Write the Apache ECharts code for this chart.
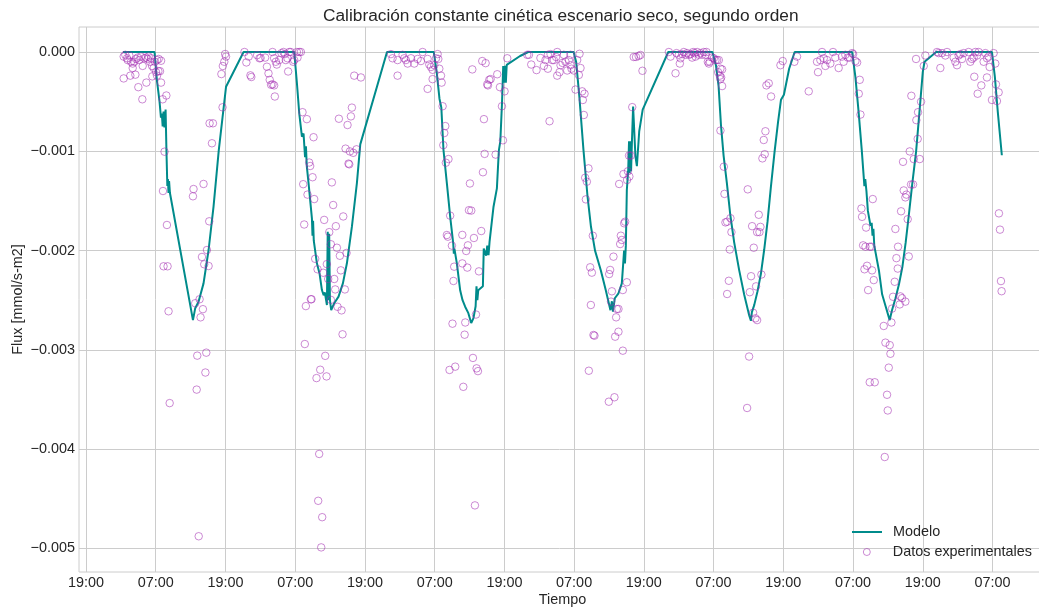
<!DOCTYPE html>
<html>
<head>
<meta charset="utf-8">
<script src="https://cdn.jsdelivr.net/npm/echarts@6/dist/echarts.min.js"></script>
<style>
html,body{margin:0;padding:0;background:#ffffff;}
#chart{width:1039px;height:610px;}
</style>
</head>
<body>
<div id="chart"></div>
<script>
// X ticks: hours after the first 19:00 tick
const tickHours = [0, 12, 24, 36, 48, 60, 72, 84, 96, 108, 120, 132, 144, 156];
const tickLabels = ['19:00', '07:00', '19:00', '07:00', '19:00', '07:00', '19:00',
                    '07:00', '19:00', '07:00', '19:00', '07:00', '19:00', '07:00'];
const fluxTicks = [0, -0.001, -0.002, -0.003, -0.004, -0.005];

// Modelo (hours, mmol/s-m2)
const modelHours = [
  6.36, 11.8, 12.2, 12.66, 12.9, 13.05, 13.2, 13.35,
  13.5, 13.7, 13.85, 14.0, 14.1, 14.2, 14.3, 14.45,
  18.41, 18.8, 19.37, 20.23, 21.1, 21.95, 22.85, 24.1,
  27.12, 35.84, 36.3, 36.7, 37.16, 37.44, 37.7, 37.85,
  38.0, 38.3, 38.88, 38.98, 39.08, 39.2, 39.74, 40.19,
  40.6, 40.9, 41.1, 41.46, 41.6, 41.72, 41.85, 41.98,
  42.2, 42.72, 43.46, 44.21, 44.9, 45.76, 46.62, 47.2,
  51.8, 59.85, 60.35, 60.83, 61.15, 61.52, 62.1, 62.67,
  63.2, 63.3, 63.4, 63.82, 64.39, 64.8, 65.25, 65.8,
  66.29, 66.68, 67.05, 67.2, 67.35, 67.5, 67.84, 68.3,
  68.45, 68.6, 68.87, 69.05, 69.27, 69.45, 70.13, 70.71,
  71.05, 71.3, 71.6, 71.8, 71.95, 72.1, 72.25, 72.4,
  74.7, 76.1, 83.92, 84.35, 84.9, 85.6, 86.3, 86.9,
  87.6, 88.6, 89.45, 90.25, 90.5, 90.68, 91.0, 91.63,
  92.21, 92.6, 92.75, 92.9, 93.07, 93.3, 93.45, 93.55,
  93.7, 93.8, 93.95, 94.15, 94.3, 94.55, 94.8, 95.2,
  95.8, 100.2, 107.8, 108.4, 108.86, 109.26, 109.72, 110.29,
  110.87, 111.55, 112.41, 113.27, 114.13, 114.42, 114.59, 114.99,
  115.56, 116.14, 116.71, 117.28, 117.86, 118.5, 119.1, 119.6,
  120.1, 121.0, 121.95, 131.85, 132.1, 132.4, 132.95, 133.5,
  133.95, 134.1, 134.3, 134.55, 135.0, 135.2, 135.35, 135.5,
  135.65, 136.45, 137.0, 137.6, 138.3, 138.7, 139.3, 139.9,
  140.5, 141.05, 141.6, 142.2, 142.85, 143.4, 144.0, 144.3,
  146.3, 155.9, 156.4, 156.9, 157.6
];
const modelFlux = [
  0, 0, -0.28e-3, -0.5e-3, -0.66e-3, -0.62e-3, -0.75e-3, -0.6e-3,
  -0.76e-3, -0.58e-3, -1.0e-3, -1.35e-3, -1.28e-3, -1.42e-3, -1.3e-3, -1.42e-3,
  -2.70e-3, -2.58e-3, -2.515e-3, -2.33e-3, -1.994e-3, -1.558e-3, -0.99e-3, -0.35e-3,
  0, 0, -0.315e-3, -0.617e-3, -0.853e-3, -0.82e-3, -1.06e-3, -0.95e-3,
  -1.15e-3, -1.32e-3, -1.675e-3, -1.85e-3, -1.70e-3, -1.9e-3, -2.128e-3, -2.23e-3,
  -2.397e-3, -2.45e-3, -2.42e-3, -2.548e-3, -1.81e-3, -2.5e-3, -1.83e-3, -2.5e-3,
  -2.6e-3, -2.53e-3, -2.464e-3, -2.33e-3, -2.128e-3, -1.759e-3, -1.32e-3, -0.93e-3,
  0, 0, -0.2e-3, -0.47e-3, -0.56e-3, -0.987e-3, -1.32e-3, -1.658e-3,
  -1.93e-3, -2.03e-3, -1.98e-3, -2.128e-3, -2.40e-3, -2.5e-3, -2.565e-3, -2.63e-3,
  -2.73e-3, -2.68e-3, -2.56e-3, -2.36e-3, -2.5e-3, -2.4e-3, -2.38e-3, -2.36e-3,
  -1.98e-3, -2.0e-3, -2.05e-3, -1.95e-3, -2.045e-3, -1.91e-3, -1.558e-3, -1.373e-3,
  -0.99e-3, -0.9e-3, -0.5e-3, -0.14e-3, -0.31e-3, -0.14e-3, -0.31e-3, -0.13e-3,
  -0.04e-3, 0, 0, -0.1e-3, -0.45e-3, -0.98e-3, -1.45e-3, -1.76e-3,
  -2.0e-3, -2.2e-3, -2.4e-3, -2.6e-3, -2.51e-3, -2.615e-3, -2.48e-3, -2.43e-3,
  -2.33e-3, -2.0e-3, -2.13e-3, -1.95e-3, -1.39e-3, -1.2e-3, -0.9e-3, -1.22e-3,
  -0.9e-3, -1.2e-3, -0.9e-3, -0.55e-3, -0.56e-3, -1.05e-3, -1.15e-3, -0.8e-3,
  -0.58e-3, 0, 0, -0.133e-3, -0.343e-3, -0.728e-3, -1.043e-3, -1.324e-3,
  -1.639e-3, -1.919e-3, -2.199e-3, -2.444e-3, -2.654e-3, -2.707e-3, -2.619e-3, -2.549e-3,
  -2.409e-3, -2.234e-3, -1.989e-3, -1.709e-3, -1.359e-3, -1.0e-3, -0.7e-3, -0.48e-3,
  -0.43e-3, -0.168e-3, 0, 0, -0.02e-3, -0.25e-3, -0.6e-3, -0.99e-3,
  -1.35e-3, -1.28e-3, -1.4e-3, -1.6e-3, -1.75e-3, -1.72e-3, -1.85e-3, -1.78e-3,
  -1.95e-3, -2.2e-3, -2.44e-3, -2.56e-3, -2.7e-3, -2.6e-3, -2.48e-3, -2.34e-3,
  -2.16e-3, -1.92e-3, -1.64e-3, -1.32e-3, -1.0e-3, -0.62e-3, -0.2e-3, -0.098e-3,
  0, 0, -0.25e-3, -0.6e-3, -1.04e-3
];

// Datos experimentales (hours, mmol/s-m2)
const obsHours = [
  6.49, 6.77, 7.06, 7.18, 7.46, 7.75, 8.04, 8.32, 8.61, 8.90,
  9.18, 9.47, 9.76, 10.05, 10.33, 10.62, 10.79, 11.02, 11.19, 11.37,
  11.65, 11.88, 12.23, 12.51, 12.92, 6.49, 7.63, 8.50, 8.04, 9.01,
  9.70, 10.39, 11.42, 12.06, 12.46, 12.74, 12.23, 12.92, 13.2, 13.83,
  13.52, 13.25, 13.93, 13.35, 14.04, 14.21, 14.4, 18.51, 18.41, 20.23,
  21.21, 20.82, 19.96, 20.35, 21.1, 19.55, 18.8, 20.12, 19.72, 19.15,
  20.7, 20.55, 19.05, 19.4, 21.27, 21.85, 21.68, 23.5, 23.3, 23.55,
  23.8, 23.95, 24.1, 27.27, 27.6, 28.0, 28.3, 28.45, 29.45, 29.85,
  30.05, 30.83, 31.14, 31.41, 31.62, 31.85, 32.1, 32.38, 32.5, 32.1,
  32.38, 32.67, 32.84, 33.24, 33.65, 33.99, 34.22, 34.39, 34.68, 34.79,
  34.97, 35.25, 35.66, 35.83, 36.29, 36.4, 36.69, 36.98, 37.26, 38.01,
  39.16, 38.41, 38.58, 38.99, 37.38, 38.12, 39.27, 37.55, 39.44, 39.85,
  37.84, 38.7, 38.81, 37.66, 40.99, 41.86, 42.54, 42.31, 43.0, 44.27,
  43.18, 43.69, 44.84, 42.14, 41.45, 40.82, 41.68, 42.72, 43.86, 42.89,
  44.55, 42.14, 43.29, 43.98, 44.15, 41.17, 40.31, 39.67, 41.4, 40.13,
  39.96, 40.65, 40.48, 46.16, 47.31, 45.76, 45.59, 45.01, 43.52, 44.67,
  45.41, 45.99, 46.56, 45.18, 45.3, 52.48, 52.76, 53.62, 53.62, 54.48,
  54.77, 55.06, 55.35, 55.92, 56.49, 57.07, 57.64, 57.93, 58.79, 59.08,
  59.36, 58.79, 59.65, 59.94, 60.23, 60.51, 60.63, 60.8, 59.65, 61.09,
  61.2, 61.37, 61.83, 61.66, 61.49, 61.93, 62.38, 62.67, 62.1, 62.28,
  62.97, 63.36, 63.24, 63.07, 63.54, 62.56, 64.76, 64.76, 65.43, 65.72,
  65.62, 65.27, 65.16, 64.93, 66.07, 65.9, 66.3, 66.76, 68.02, 67.62,
  67.11, 66.59, 67.22, 67.45, 66.93, 68.31, 68.6, 70.49, 71.75, 68.48,
  71.58, 72.03, 71.23, 69.05, 69.17, 69.4, 69.63, 70.77, 66.48, 68.19,
  68.77, 72.49, 75.93, 76.22, 76.62, 77.53, 78.8, 79.08, 79.48, 79.48,
  79.94, 80.23, 80.51, 81.09, 81.09, 81.49, 81.66, 82.23, 82.52, 82.81,
  83.09, 83.38, 83.38, 83.55, 83.95, 84.24, 84.81, 84.93, 84.53, 85.1,
  85.39, 85.5, 85.79, 85.67, 79.77, 78.2, 80.9, 82.0, 86.47, 85.9,
  86.19, 86.02, 87.22, 86.76, 87.05, 86.88, 87.33, 87.5, 86.53, 90.2,
  90.03, 90.77, 91.75, 92.49, 92.78, 92.61, 92.04, 92.21, 91.92, 93.07,
  92.38, 90.5, 90.35, 91.63, 91.35, 91.23, 91.63, 91.06, 92.38, 89.97,
  90.94, 93.1, 93.5, 93.25, 93.45, 93.75, 94.0, 94.25, 94.65, 95.1,
  95.41, 95.76, 100.3, 100.59, 101.45, 101.62, 102.02, 102.19, 102.31, 102.59,
  102.88, 103.17, 103.45, 103.74, 104.03, 104.31, 104.48, 104.71, 104.89, 105.17,
  105.46, 105.75, 106.03, 106.32, 106.6, 106.78, 107.01, 107.18, 107.35, 107.75,
  108.04, 108.32, 108.61, 108.9, 109.18, 108.78, 109.07, 109.3, 109.47, 109.47,
  109.18, 109.18, 109.76, 109.87, 110.04, 110.33, 110.9, 111.07, 110.79, 110.62,
  110.33, 113.88, 114.63, 115.77, 116.06, 115.49, 115.89, 114.91, 114.45, 116.23,
  115.31, 114.23, 114.8, 115.2, 115.49, 114.11, 113.77, 116.4, 116.63, 116.92,
  116.8, 117.09, 117.49, 117.89, 119.5, 119.9, 121.9, 122.36, 124.37, 125.8,
  125.97, 126.37, 126.66, 126.95, 127.23, 127.52, 128.09, 128.55, 128.95, 129.52,
  130.1, 130.38, 130.67, 131.09, 131.43, 131.84, 132.01, 132.41, 132.7, 133.15,
  132.98, 133.27, 135.39, 133.44, 133.55, 134.24, 133.73, 134.13, 134.87, 135.16,
  134.41, 133.96, 135.27, 135.56, 134.59, 137.28, 137.57, 138.31, 138.43, 138.14,
  134.87, 135.73, 137.85, 137.97, 137.45, 142.03, 143.7, 143.18, 142.89, 143.12,
  141.75, 140.6, 142.44, 143.47, 140.72, 141.18, 141.0, 141.98, 142.32, 140.26,
  141.4, 139.28, 139.74, 141.58, 139.46, 139.69, 139.17, 138.88, 140.14, 140.43,
  140.03, 141.0, 138.71, 138.6, 142.84, 144.16, 144.44, 146.45, 146.73, 147.02,
  147.31, 147.88, 148.17, 149.31, 149.6, 149.89, 150.17, 150.46, 150.75, 151.03,
  151.89, 152.18, 152.46, 152.75, 153.04, 153.32, 153.61, 154.47, 154.76, 155.04,
  155.5, 155.33, 156.19, 156.47, 152.86, 153.44, 154.07, 155.04, 155.9, 156.76,
  156.59, 157.05, 157.1, 157.28, 157.45, 157.56
];
const obsFlux = [
  -0.046e-3, -0.028e-3, -0.063e-3, -0.081e-3, -0.035e-3, -0.098e-3, -0.116e-3, -0.098e-3, -0.07e-3, -0.056e-3,
  -0.081e-3, -0.046e-3, -0.14e-3, -0.063e-3, -0.056e-3, -0.07e-3, -0.046e-3, -0.098e-3, -0.063e-3, -0.14e-3,
  -0.161e-3, -0.098e-3, -0.081e-3, -0.07e-3, -0.088e-3, -0.266e-3, -0.238e-3, -0.228e-3, -0.161e-3, -0.354e-3,
  -0.476e-3, -0.308e-3, -0.245e-3, -0.203e-3, -0.193e-3, -0.193e-3, -0.238e-3, -0.308e-3, -0.476e-3, -0.438e-3,
  -1.004e-3, -1.40e-3, -1.742e-3, -2.158e-3, -2.158e-3, -2.611e-3, -3.536e-3, -1.38e-3, -1.453e-3, -1.329e-3,
  -1.705e-3, -1.994e-3, -2.064e-3, -2.138e-3, -2.155e-3, -2.49e-3, -2.53e-3, -2.59e-3, -2.672e-3, -3.058e-3,
  -3.028e-3, -3.228e-3, -3.4e-3, -4.877e-3, -0.718e-3, -0.718e-3, -0.919e-3, -0.557e-3, -0.222e-3, -0.141e-3,
  -0.098e-3, -0.02e-3, -0.046e-3, 0, -0.105e-3, -0.046e-3, -0.235e-3, -0.252e-3, -0.032e-3, -0.063e-3,
  -0.06e-3, -0.056e-3, -0.148e-3, -0.215e-3, -0.28e-3, -0.33e-3, -0.326e-3, -0.336e-3, -0.448e-3, 0,
  -0.063e-3, -0.098e-3, -0.126e-3, -0.081e-3, -0.011e-3, 0, -0.021e-3, -0.081e-3, -0.063e-3, -0.196e-3,
  0, 0, -0.098e-3, -0.081e-3, 0, -0.056e-3, 0, 0, -0.606e-3, -0.676e-3,
  -0.858e-3, -1.113e-3, -1.148e-3, -1.261e-3, -1.331e-3, -1.436e-3, -1.481e-3, -1.737e-3, -2.083e-3, -2.188e-3,
  -2.559e-3, -2.49e-3, -2.49e-3, -2.941e-3, -1.691e-3, -1.814e-3, -1.541e-3, -1.313e-3, -1.754e-3, -1.656e-3,
  -1.971e-3, -2.052e-3, -2.024e-3, -1.936e-3, -2.136e-3, -2.223e-3, -2.286e-3, -2.286e-3, -2.199e-3, -2.391e-3,
  -2.391e-3, -2.496e-3, -2.566e-3, -2.602e-3, -2.843e-3, -3.06e-3, -3.2e-3, -3.284e-3, -3.267e-3, -4.048e-3,
  -4.52e-3, -4.685e-3, -4.989e-3, -0.238e-3, -0.256e-3, -0.56e-3, -0.648e-3, -0.735e-3, -0.672e-3, -0.973e-3,
  -1.001e-3, -1.015e-3, -0.98e-3, -1.124e-3, -1.131e-3, -0.021e-3, -0.063e-3, -0.081e-3, -0.238e-3, -0.028e-3,
  -0.063e-3, -0.081e-3, -0.116e-3, -0.063e-3, -0.116e-3, -0.07e-3, -0.091e-3, 0, -0.07e-3, -0.126e-3,
  -0.151e-3, -0.371e-3, -0.179e-3, -0.133e-3, -0.063e-3, -0.021e-3, -0.07e-3, -0.168e-3, -0.273e-3, -0.238e-3,
  -0.308e-3, -0.546e-3, -0.746e-3, -0.816e-3, -0.938e-3, -1.115e-3, -1.078e-3, -1.648e-3, -1.843e-3, -1.86e-3,
  -1.95e-3, -2.162e-3, -2.306e-3, -2.736e-3, -3.169e-3, -3.202e-3, -1.842e-3, -2.129e-3, -2.004e-3, -1.947e-3,
  -2.171e-3, -2.724e-3, -2.847e-3, -3.372e-3, -1.324e-3, -1.593e-3, -1.597e-3, -1.873e-3, -1.803e-3, -2.209e-3,
  -2.644e-3, -3.081e-3, -3.186e-3, -3.214e-3, -4.566e-3, -1.211e-3, -1.026e-3, -1.033e-3, -0.889e-3, -0.676e-3,
  -0.546e-3, -0.396e-3, -0.354e-3, -0.326e-3, -0.336e-3, -0.28e-3, -0.273e-3, -0.224e-3, -0.175e-3, -0.091e-3,
  -0.112e-3, -0.063e-3, -0.028e-3, -0.028e-3, -0.126e-3, -0.182e-3, -0.14e-3, -0.081e-3, -0.168e-3, -0.028e-3,
  -0.021e-3, -0.081e-3, -0.081e-3, 0, -0.238e-3, -0.203e-3, -0.133e-3, -0.028e-3, -0.098e-3, -0.186e-3,
  -0.081e-3, -0.028e-3, -0.133e-3, -0.168e-3, -0.186e-3, -0.378e-3, -0.231e-3, -0.018e-3, -0.081e-3, -0.161e-3,
  -0.396e-3, -0.483e-3, -0.42e-3, -0.634e-3, -0.697e-3, -0.06e-3, -0.05e-3, -0.11e-3, -1.172e-3, -1.266e-3,
  -1.306e-3, -1.484e-3, -1.85e-3, -2.168e-3, -2.222e-3, -2.548e-3, -2.85e-3, -2.857e-3, -3.21e-3, -2.195e-3,
  -2.236e-3, -2.061e-3, -1.329e-3, -1.229e-3, -1.709e-3, -1.725e-3, -1.85e-3, -1.893e-3, -1.934e-3, -2.319e-3,
  -2.397e-3, -2.41e-3, -2.514e-3, -2.588e-3, -2.588e-3, -2.672e-3, -2.817e-3, -2.867e-3, -3.008e-3, -3.522e-3,
  -3.477e-3, -1.289e-3, -1.254e-3, -1.201e-3, -1.043e-3, -1.043e-3, -0.555e-3, -0.05e-3, -0.05e-3, -0.04e-3,
  -0.03e-3, -0.189e-3, 0, -0.046e-3, -0.214e-3, -0.011e-3, -0.028e-3, -0.116e-3, -0.063e-3, -0.021e-3,
  0, -0.028e-3, -0.011e-3, -0.028e-3, -0.021e-3, -0.056e-3, 0, -0.011e-3, -0.046e-3, 0,
  -0.028e-3, -0.011e-3, -0.028e-3, 0, -0.028e-3, 0, -0.098e-3, -0.116e-3, -0.098e-3, -0.056e-3,
  -0.063e-3, -0.081e-3, -0.081e-3, -0.081e-3, -0.168e-3, -0.203e-3, -0.238e-3, -0.256e-3, -0.175e-3, -0.343e-3,
  -0.273e-3, -0.791e-3, -1.155e-3, -1.429e-3, -1.716e-3, -1.709e-3, -1.674e-3, -1.814e-3, -1.989e-3, -2.304e-3,
  -2.437e-3, -1.383e-3, -1.754e-3, -1.639e-3, -1.761e-3, -1.814e-3, -1.814e-3, -1.971e-3, -2.258e-3, -2.241e-3,
  -2.36e-3, -2.419e-3, -2.626e-3, -2.682e-3, -2.7e-3, -3.067e-3, -3.585e-3, -1.071e-3, -0.886e-3, -0.798e-3,
  -1.029e-3, -0.336e-3, -0.315e-3, -0.448e-3, -0.133e-3, -0.091e-3, -0.098e-3, -0.046e-3, -0.396e-3, -0.098e-3,
  -0.203e-3, -0.081e-3, 0, -0.063e-3, -0.14e-3, -0.081e-3, -0.116e-3, 0, -0.056e-3, -0.161e-3,
  -0.046e-3, -0.098e-3, -0.028e-3, -0.056e-3, -0.056e-3, -0.011e-3, -0.021e-3, -0.091e-3, -0.105e-3, -0.28e-3,
  -0.42e-3, -0.63e-3, -1.481e-3, -1.576e-3, -1.66e-3, -1.768e-3, -1.947e-3, -1.961e-3, -1.961e-3, -1.961e-3,
  -2.153e-3, -2.188e-3, -2.199e-3, -2.297e-3, -2.398e-3, -2.759e-3, -2.927e-3, -2.952e-3, -3.039e-3, -3.179e-3,
  -3.326e-3, -3.326e-3, -3.452e-3, -3.61e-3, -4.079e-3, -0.441e-3, -0.501e-3, -0.606e-3, -0.686e-3, -0.875e-3,
  -1.001e-3, -1.106e-3, -1.078e-3, -1.078e-3, -1.394e-3, -1.436e-3, -1.464e-3, -1.334e-3, -1.334e-3, -1.604e-3,
  -1.684e-3, -1.782e-3, -1.961e-3, -2.059e-3, -2.076e-3, -2.181e-3, -2.314e-3, -2.465e-3, -2.461e-3, -2.479e-3,
  -2.542e-3, -2.514e-3, -2.584e-3, -2.724e-3, -0.07e-3, -0.14e-3, -0.035e-3, 0, -0.011e-3, -0.161e-3,
  -0.011e-3, -0.035e-3, 0, -0.056e-3, -0.098e-3, -0.133e-3, -0.035e-3, -0.021e-3, -0.07e-3, -0.011e-3,
  0, -0.098e-3, -0.07e-3, -0.056e-3, 0, -0.035e-3, 0, -0.098e-3, -0.011e-3, -0.063e-3,
  -0.151e-3, -0.046e-3, -0.011e-3, -0.116e-3, -0.249e-3, -0.42e-3, -0.336e-3, -0.256e-3, -0.483e-3, -0.494e-3,
  -0.326e-3, -0.406e-3, -1.625e-3, -1.789e-3, -2.307e-3, -2.409e-3
];

const TEAL = '#008b8b';
const PURPLE = 'rgba(160,40,175,0.68)';
const TEXT = '#262626';
const GRID = '#cccccc';
const FONT = '"Liberation Sans", Arial, Helvetica, sans-serif';

const labelByHour = {};
tickHours.forEach(function (h, i) { labelByHour[h] = tickLabels[i]; });

const modelData = modelHours.map(function (h, i) { return [h, modelFlux[i]]; });
const obsData = obsHours.map(function (h, i) { return [h, obsFlux[i]]; });

const chart = echarts.init(document.getElementById('chart'), null, { renderer: 'canvas' });
chart.setOption({
  animation: false,
  backgroundColor: '#ffffff',
  title: {
    text: 'Calibración constante cinética escenario seco, segundo orden',
    left: 323,
    top: 8,
    padding: 0,
    textStyle: { fontFamily: FONT, fontSize: 17.3, fontWeight: 'normal', color: TEXT }
  },
  grid: {
    left: 79, top: 27, right: -7, bottom: 38,
    show: true, borderColor: GRID, borderWidth: 1,
    containLabel: false, outerBoundsMode: 'none'
  },
  xAxis: {
    type: 'value',
    min: -1.2, max: 165.2,
    name: 'Tiempo', nameLocation: 'middle', nameGap: 21.5, nameMoveOverlap: false,
    nameTextStyle: { fontFamily: FONT, fontSize: 14.4, color: TEXT },
    axisLine: { show: false },
    axisTick: { show: false, customValues: tickHours },
    axisLabel: {
      customValues: tickHours, margin: 4,
      fontFamily: FONT, fontSize: 14.4, color: TEXT,
      formatter: function (v) { return labelByHour[v] !== undefined ? labelByHour[v] : ''; }
    },
    splitLine: { show: true, lineStyle: { color: GRID, width: 1 } }
  },
  yAxis: {
    type: 'value',
    min: -0.005237, max: 0.000252,
    name: 'Flux [mmol/s-m2]', nameLocation: 'middle', nameGap: 54, nameRotate: 90,
    nameMoveOverlap: false,
    nameTextStyle: { fontFamily: FONT, fontSize: 14.4, color: TEXT },
    axisLine: { show: false },
    axisTick: { show: false, customValues: fluxTicks },
    axisLabel: {
      customValues: fluxTicks, margin: 4,
      fontFamily: FONT, fontSize: 14.4, color: TEXT,
      formatter: function (v) {
        if (Math.abs(v) < 1e-9) return '0.000';
        return (v < 0 ? '\u2212' : '') + Math.abs(v).toFixed(3);
      }
    },
    splitLine: { show: true, lineStyle: { color: GRID, width: 1 } }
  },
  legend: [
    {
      data: [{ name: 'Modelo', icon: 'rect', itemStyle: { color: TEAL, borderWidth: 0 } }],
      left: 852, top: 525, padding: 0, orient: 'vertical',
      itemWidth: 30, itemHeight: 2, selectedMode: false,
      textStyle: { fontFamily: FONT, fontSize: 14.4, color: TEXT, padding: [0, 0, 0, 6] }
    },
    {
      data: [{ name: 'Datos experimentales', icon: 'circle',
               itemStyle: { color: 'rgba(0,0,0,0)', borderColor: PURPLE, borderWidth: 1 } }],
      right: 7, top: 545, padding: 0, orient: 'vertical',
      itemWidth: 30, itemHeight: 7, selectedMode: false,
      textStyle: { fontFamily: FONT, fontSize: 14.4, color: TEXT, padding: [0, 0, 0, 6] }
    }
  ],
  series: [
    {
      name: 'Modelo',
      type: 'line',
      data: modelData,
      showSymbol: false,
      symbol: 'none',
      z: 2,
      lineStyle: { color: TEAL, width: 2 },
      itemStyle: { color: TEAL }
    },
    {
      name: 'Datos experimentales',
      type: 'scatter',
      data: obsData,
      symbol: 'circle',
      symbolSize: 7.5,
      z: 3,
      itemStyle: { color: 'rgba(0,0,0,0)', borderColor: PURPLE, borderWidth: 1 }
    }
  ]
});
</script>
</body>
</html>
